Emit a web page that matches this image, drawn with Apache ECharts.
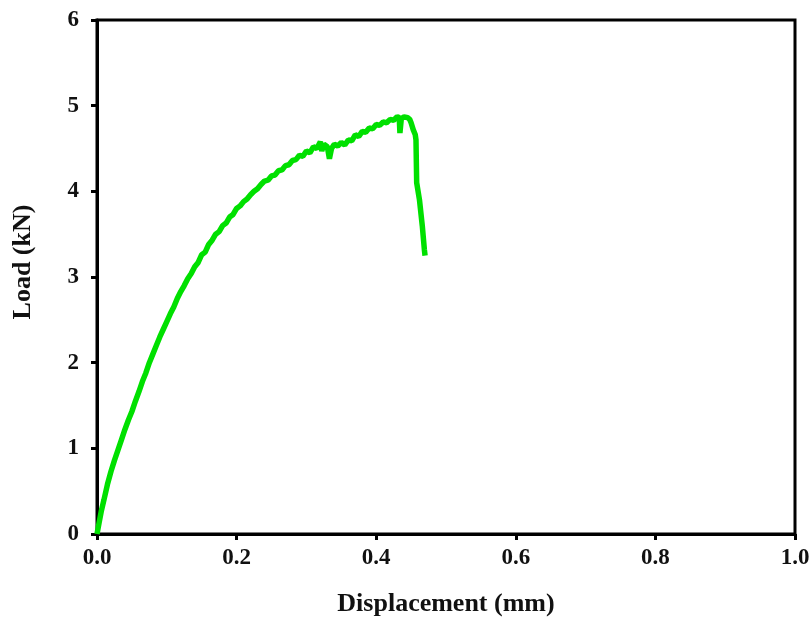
<!DOCTYPE html>
<html>
<head>
<meta charset="utf-8">
<script src="https://cdn.jsdelivr.net/npm/echarts@6/dist/echarts.min.js"></script>
<style>
    html, body { margin: 0; padding: 0; background: #fff; }
    #chart { width: 811px; height: 619px; }
</style>
</head>
<body>
<div id="chart"></div>
<script>
// displacement (mm) and load (kN)
var displacement = [
    0, 0.003, 0.006, 0.01, 0.015, 0.02, 0.025, 0.03, 0.035, 0.04,
    0.045, 0.05, 0.055, 0.06, 0.065, 0.07, 0.075, 0.08, 0.085, 0.09,
    0.095, 0.1, 0.105, 0.11, 0.115, 0.12, 0.125, 0.13, 0.135, 0.14,
    0.145, 0.15, 0.155, 0.16, 0.165, 0.17, 0.175, 0.18, 0.185, 0.19,
    0.195, 0.2, 0.205, 0.21, 0.215, 0.22, 0.225, 0.23, 0.235, 0.24,
    0.245, 0.25, 0.255, 0.26, 0.265, 0.27, 0.275, 0.28, 0.285, 0.29,
    0.295, 0.3, 0.305, 0.31, 0.315, 0.32, 0.322, 0.325, 0.33, 0.333,
    0.336, 0.34, 0.345, 0.35, 0.355, 0.36, 0.365, 0.37, 0.375, 0.38,
    0.385, 0.39, 0.395, 0.4, 0.405, 0.41, 0.415, 0.42, 0.425, 0.43,
    0.433, 0.434, 0.436, 0.44, 0.445, 0.448, 0.45, 0.453, 0.456, 0.457,
    0.458, 0.462, 0.466, 0.469, 0.47
]
var load = [
    0, 0.13, 0.26, 0.4, 0.58, 0.73, 0.86, 0.98, 1.1, 1.22,
    1.33, 1.43, 1.55, 1.66, 1.78, 1.88, 2.0, 2.1, 2.2, 2.3,
    2.39, 2.48, 2.57, 2.65, 2.75, 2.83, 2.9, 2.98, 3.04, 3.12,
    3.17, 3.26, 3.29, 3.38, 3.43, 3.5, 3.53, 3.6, 3.63, 3.7,
    3.73, 3.8, 3.83, 3.88, 3.91, 3.96, 4.0, 4.03, 4.08, 4.12,
    4.13, 4.18, 4.19, 4.24, 4.25, 4.3, 4.31, 4.36, 4.37, 4.42,
    4.41, 4.47, 4.45, 4.52, 4.5, 4.58, 4.47, 4.55, 4.52, 4.38,
    4.5, 4.55, 4.53, 4.57, 4.54, 4.6, 4.59, 4.66, 4.64, 4.7,
    4.69, 4.74, 4.73, 4.78, 4.77, 4.81, 4.8, 4.84, 4.83, 4.87,
    4.86, 4.68, 4.85, 4.87, 4.86, 4.84, 4.8, 4.72, 4.66, 4.6,
    4.1, 3.9, 3.6, 3.32, 3.25
]
var xTicks = [0, 0.2, 0.4, 0.6, 0.8, 1.0]
var yTicks = [0, 1, 2, 3, 4, 5, 6]

function create_load_chart() {
    var chartDom = document.getElementById('chart')
    var myChart = echarts.init(chartDom)
    var points = displacement.map(function (d, i) { return [d, load[i]] })
    var font = 'Liberation Serif'
    let options = {
        animation: false,
        grid: {
            left: 97,
            right: 16,
            top: 20,
            bottom: 85,
            outerBoundsMode: 'none',
            show: true,
            borderColor: '#000',
            borderWidth: 3
        },
        xAxis: {
            type: 'value',
            min: xTicks[0],
            max: xTicks[xTicks.length - 1],
            interval: 0.2,
            name: 'Displacement (mm)',
            nameLocation: 'middle',
            nameGap: 57,
            nameTextStyle: { fontFamily: font, fontWeight: 'bold', fontSize: 26, color: '#111' },
            axisLine: { show: true, lineStyle: { color: '#000', width: 3 } },
            axisTick: { show: true, inside: false, length: 6, lineStyle: { color: '#000', width: 3 } },
            axisLabel: {
                margin: 13,
                fontFamily: font, fontWeight: 'bold', fontSize: 23, color: '#111',
                formatter: function (v) { return v.toFixed(1) }
            },
            splitLine: { show: false }
        },
        yAxis: {
            type: 'value',
            min: yTicks[0],
            max: yTicks[yTicks.length - 1],
            interval: 1,
            name: 'Load (kN)',
            nameLocation: 'middle',
            nameGap: 61,
            nameTextStyle: { fontFamily: font, fontWeight: 'bold', fontSize: 26, color: '#111', padding: [0, 0, 0, 30] },
            axisLine: { show: true, lineStyle: { color: '#000', width: 3 } },
            axisTick: { show: true, inside: false, length: 6, lineStyle: { color: '#000', width: 3 } },
            axisLabel: {
                margin: 18,
                fontFamily: font, fontWeight: 'bold', fontSize: 23, color: '#111'
            },
            splitLine: { show: false }
        },
        series: [
            {
                type: 'line',
                data: points,
                showSymbol: false,
                lineStyle: { color: '#00e000', width: 5.5 }
            }
        ]
    }
    myChart.setOption(options)
}

create_load_chart()
</script>
</body>
</html>
